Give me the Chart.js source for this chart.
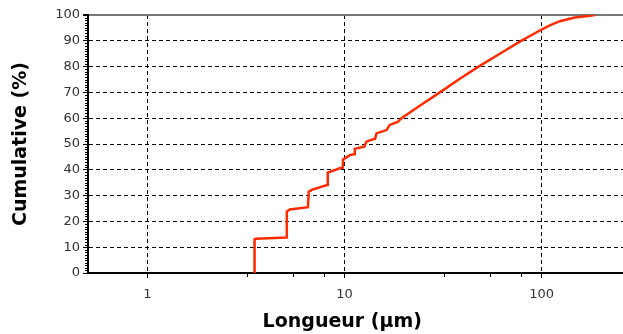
<!DOCTYPE html>
<html>
<head>
<meta charset="utf-8">
<script src="https://cdn.jsdelivr.net/npm/chart.js@4"></script>
<style>
  html, body { margin: 0; padding: 0; background: #fff; }
  #wrap { width: 623px; height: 334px; position: relative; }
</style>
</head>
<body>
<div id="wrap"><canvas id="curve"></canvas></div>
<script>
// longueur (µm) et cumul (%)
const lengths = [3.50, 3.50, 3.55, 5.09, 5.10, 5.28, 6.53, 6.59, 6.82, 8.16,
  8.23, 9.47, 9.80, 9.85, 10.64, 11.2, 11.28, 12.6, 12.93, 13.92,
  14.3, 14.54, 16.34, 16.98, 18.65, 19.47, 24.1, 30.5, 38.5, 48.6,
  61.4, 77.6, 98, 110.2, 123.9, 147.6, 175.9, 186.5];
const cumulative = [0, 13.1, 13.3, 13.8, 23.8, 24.6, 25.5, 31.5, 32.2, 34.1,
  38.9, 40.6, 40.8, 44.0, 45.7, 46.0, 48.1, 49.0, 50.9, 51.8,
  52.0, 54.1, 55.4, 57.4, 58.6, 60.0, 64.8, 70.0, 75.3, 80.3,
  85.0, 89.7, 94.0, 96.0, 97.6, 99.0, 99.7, 100];

const xTicks = [1, 10, 100];
const xMinor = [3.2, 5.5, 7.9, 32, 55, 79];

const points = lengths.map((v, i) => ({ x: v, y: cumulative[i] }));

// petits traits secondaires sur les axes
const minorTicks = {
  id: "minorTicks",
  afterDraw(chart) {
    const ctx = chart.ctx;
    const xs = chart.scales.x, ys = chart.scales.y;
    const area = chart.chartArea;
    ctx.save();
    ctx.strokeStyle = "#000";
    ctx.lineWidth = 1;
    ctx.beginPath();
    xMinor.forEach((v) => {
      const px = Math.round(xs.getPixelForValue(v)) + 0.5;
      ctx.moveTo(px, area.bottom);
      ctx.lineTo(px, area.bottom + 4);
    });
    for (let v = 1; v < 100; v++) {
      if (v % 10 === 0) continue;
      const py = Math.round(ys.getPixelForValue(v)) + 0.5;
      ctx.moveTo(area.left - 3, py);
      ctx.lineTo(area.left, py);
    }
    ctx.stroke();
    ctx.restore();
  },
};

new Chart(document.getElementById("curve"), {
  type: "scatter",
  plugins: [minorTicks],
  data: {
    datasets: [{
      data: points,
      showLine: true,
      borderColor: "#ff2a00",
      borderWidth: 2.5,
      pointRadius: 0,
      tension: 0,
    }],
  },
  options: {
    responsive: true,
    maintainAspectRatio: false,
    animation: false,
    layout: { padding: { top: 15, left: 0, right: 0, bottom: 0 } },
    plugins: { legend: { display: false }, tooltip: { enabled: false } },
    scales: {
      x: {
        type: "logarithmic",
        min: 0.5,
        max: 259,
        afterBuildTicks: (scale) => {
          scale.ticks = xTicks.map((v) => ({ value: v }));
        },
        afterFit: (scale) => { scale.height = 61; },
        ticks: {
          color: "#333",
          font: { family: "DejaVu Sans", size: 13 },
          padding: 9,
          autoSkip: false,
          maxRotation: 0,
          callback: (v) => String(v),
        },
        grid: { color: "#000", lineWidth: 1, tickLength: 5, tickColor: "#000" },
        border: { color: "#000", width: 2, dash: [4, 3] },
        title: {
          display: true,
          // espaces insécables : décale le titre vers la gauche comme l'original
          text: "Longueur (µm)\u00a0\u00a0\u00a0\u00a0",
          color: "#000",
          font: { family: "DejaVu Sans", size: 19, weight: "bold", lineHeight: 1.2 },
          padding: { top: 0, bottom: 1 },
        },
      },
      y: {
        min: 0,
        max: 100,
        afterFit: (scale) => { scale.width = 88; },
        ticks: {
          stepSize: 10,
          color: "#333",
          font: { family: "DejaVu Sans", size: 13 },
          padding: 3,
        },
        grid: {
          color: (c) => (c.tick && c.tick.value === 100 ? "#777" : "#000"),
          lineWidth: (c) => (c.tick && c.tick.value === 100 ? 2 : 1),
          tickLength: 5,
          tickColor: "#000",
        },
        border: {
          color: "#000",
          width: 2,
          dash: (c) => (c.tick && c.tick.value === 100 ? [] : [4, 3]),
        },
        title: {
          display: true,
          text: "Cumulative (%)",
          color: "#000",
          font: { family: "DejaVu Sans", size: 19, weight: "bold", lineHeight: 1.2 },
          padding: { top: 10, bottom: 0 },
        },
      },
    },
  },
});
</script>
</body>
</html>
